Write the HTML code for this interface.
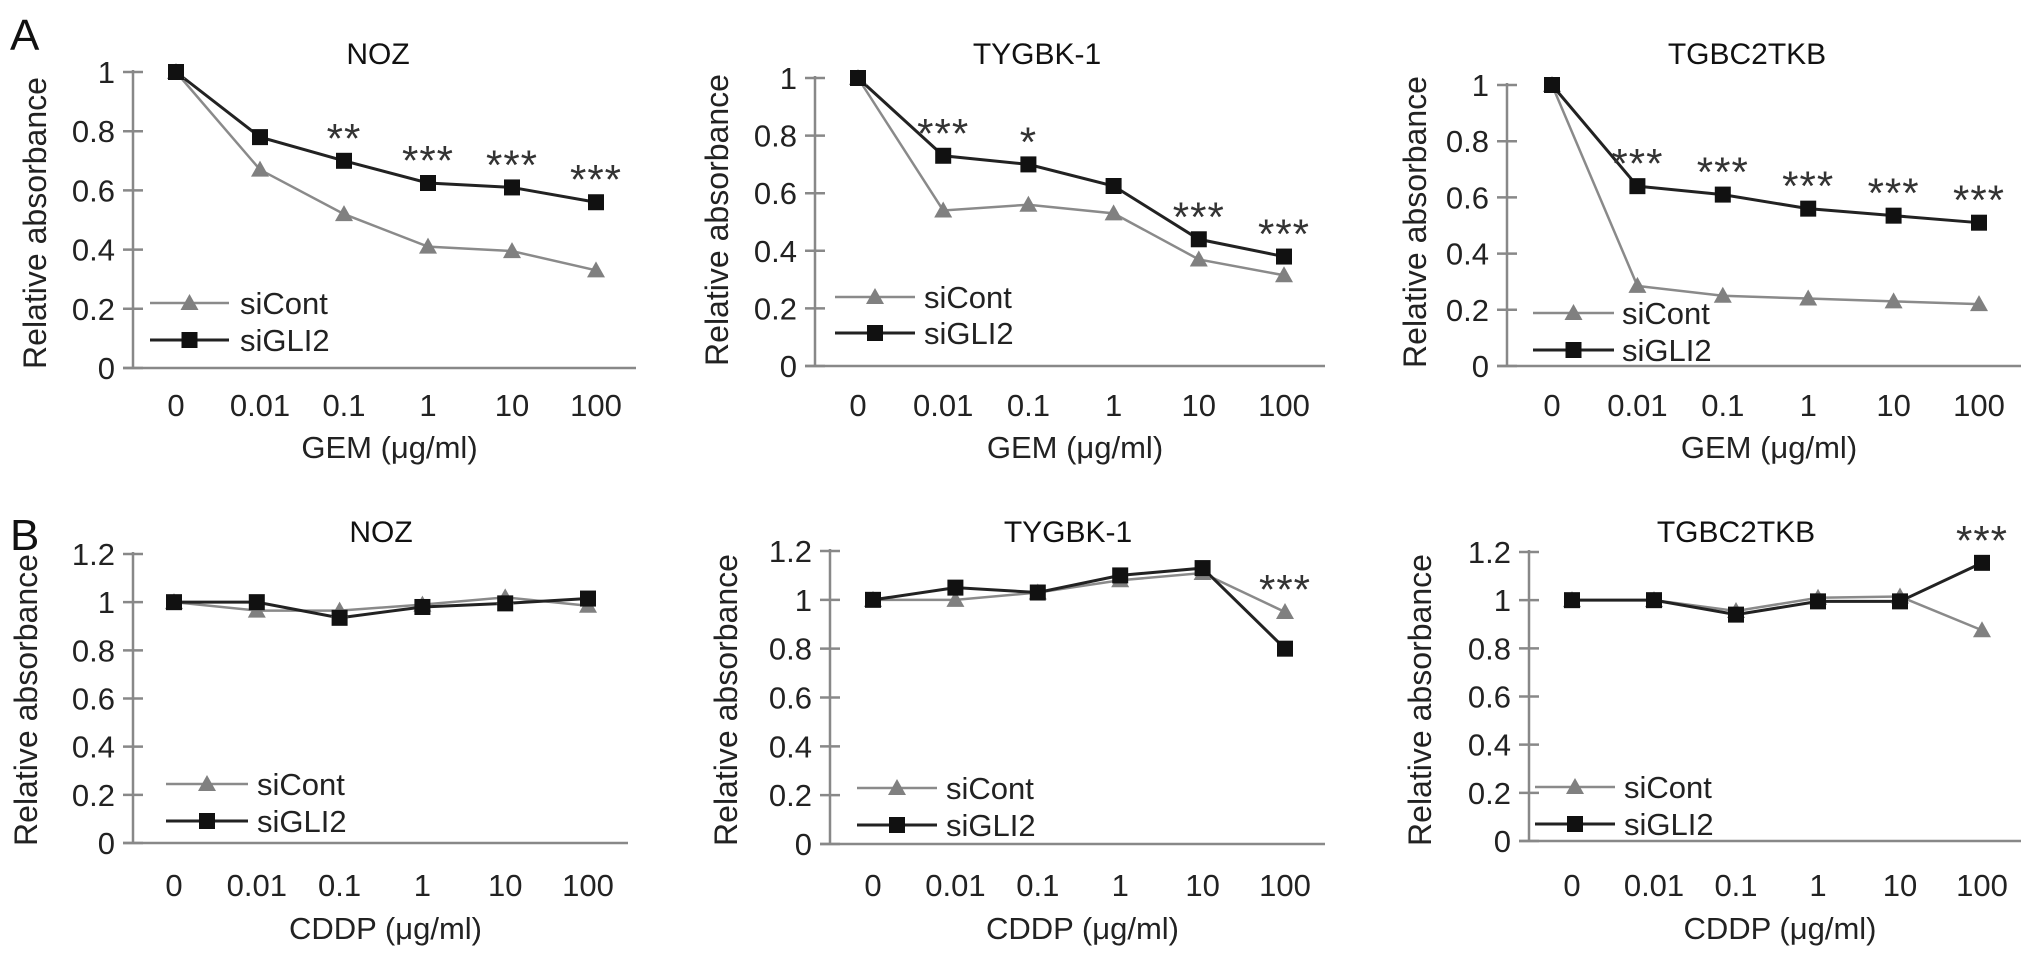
<!DOCTYPE html>
<html><head><meta charset="utf-8">
<style>
html,body{margin:0;padding:0;background:#fff;}
svg{display:block;font-family:"Liberation Sans",Arial,sans-serif;}
</style></head>
<body>
<svg id="fig" width="2032" height="960" viewBox="0 0 2032 960" xmlns="http://www.w3.org/2000/svg">
<text x="10" y="50" font-size="44" fill="#111">A</text>
<text x="10" y="550" font-size="44" fill="#111">B</text>
</svg>
<script>
const categories = ["0","0.01","0.1","1","10","100"];
const ticksA = [0,0.2,0.4,0.6,0.8,1];
const tickLabelsA = ["0","0.2","0.4","0.6","0.8","1"];
const ticksB = [0,0.2,0.4,0.6,0.8,1,1.2];
const tickLabelsB = ["0","0.2","0.4","0.6","0.8","1","1.2"];
const titles = ["NOZ","TYGBK-1","TGBC2TKB","NOZ","TYGBK-1","TGBC2TKB"];
const xTitles = ["GEM (\u03bcg/ml)","GEM (\u03bcg/ml)","GEM (\u03bcg/ml)","CDDP (\u03bcg/ml)","CDDP (\u03bcg/ml)","CDDP (\u03bcg/ml)"];
const siContA1 = [1,0.67,0.52,0.41,0.395,0.33];
const siGLI2A1 = [1,0.78,0.70,0.625,0.61,0.56];
const starsA1 = ["","","**","***","***","***"];
const siContA2 = [1,0.54,0.56,0.53,0.37,0.315];
const siGLI2A2 = [1,0.73,0.70,0.625,0.44,0.38];
const starsA2 = ["","***","*","","***","***"];
const siContA3 = [1,0.285,0.25,0.24,0.23,0.22];
const siGLI2A3 = [1,0.64,0.61,0.56,0.535,0.51];
const starsA3 = ["","***","***","***","***","***"];
const siContB1 = [1,0.965,0.965,0.99,1.02,0.985];
const siGLI2B1 = [1,1.0,0.935,0.98,0.995,1.015];
const starsB1 = ["","","","","",""];
const siContB2 = [1,1.0,1.03,1.08,1.11,0.95];
const siGLI2B2 = [1,1.05,1.03,1.10,1.13,0.80];
const starsB2 = ["","","","","","***"];
const siContB3 = [1,1.0,0.955,1.01,1.015,0.875];
const siGLI2B3 = [1,1.0,0.94,0.995,0.995,1.155];
const starsB3 = ["","","","","","***"];

const NS="http://www.w3.org/2000/svg";
const svg=document.getElementById('fig');
function mk(tag,attrs,parent){const e=document.createElementNS(NS,tag);for(const k in attrs)e.setAttribute(k,attrs[k]);(parent||svg).appendChild(e);return e;}

const layouts=[
 {ax:133,x0:176,step:84,xEnd:636,y0:368,yTop:72,vTop:1,tl:416,tt:458,title:[378,64],yt:[35,223],leg:[150,229,240,303,340]},
 {ax:815,x0:858,step:85.2,xEnd:1325,y0:366,yTop:78,vTop:1,tl:416,tt:458,title:[1037,64],yt:[717,220],leg:[835,915,924,297,333]},
 {ax:1507,x0:1552,step:85.4,xEnd:2021,y0:366,yTop:85,vTop:1,tl:416,tt:458,title:[1747,64],yt:[1415,222],leg:[1533,1614,1622,313,350]},
 {ax:133,x0:174,step:82.8,xEnd:628,y0:843,yTop:554,vTop:1.2,tl:896,tt:939,title:[381,542],yt:[26,700],leg:[166,248,257,784,821]},
 {ax:830,x0:873,step:82.4,xEnd:1325,y0:844,yTop:551,vTop:1.2,tl:896,tt:939,title:[1068,542],yt:[726,700],leg:[857,937,946,788,825]},
 {ax:1529,x0:1572,step:82,xEnd:2021,y0:841,yTop:552,vTop:1.2,tl:896,tt:939,title:[1736,542],yt:[1420,700],leg:[1535,1615,1624,787,824]}
];
const conts=[siContA1,siContA2,siContA3,siContB1,siContB2,siContB3];
const glis=[siGLI2A1,siGLI2A2,siGLI2A3,siGLI2B1,siGLI2B2,siGLI2B3];
const stars=[starsA1,starsA2,starsA3,starsB1,starsB2,starsB3];

function tri(g,x,y,name){
 const p=mk('polygon',{points:`${x},${y-9} ${x-9},${y+7} ${x+9},${y+7}`,fill:'#808080'},g);
 
 
}
function sq(g,x,y,name){
 const r=mk('rect',{x:x-8,y:y-8,width:16,height:16,fill:'#111'},g);
 
 
}

layouts.forEach((L,ci)=>{
 const isB=ci>=3;
 const ticks=isB?ticksB:ticksA, tlabels=isB?tickLabelsB:tickLabelsA;
 const g=mk('g',{});
 
 
 const yS=v=>L.y0-(v/L.vTop)*(L.y0-L.yTop);
 const xS=i=>L.x0+i*L.step;
 const ya=mk('line',{x1:L.ax,y1:L.yTop-2,x2:L.ax,y2:L.y0,stroke:'#888','stroke-width':2.5},g);
 
 
 const xa=mk('line',{x1:L.ax-10,y1:L.y0,x2:L.xEnd,y2:L.y0,stroke:'#888','stroke-width':2.5},g);
 
 
 ticks.forEach((v,i)=>{
  const y=yS(v);
  const t=mk('line',{x1:L.ax-10,y1:y,x2:L.ax+10,y2:y,stroke:'#888','stroke-width':2.5},g);
  
  
  const tx=mk('text',{x:L.ax-18,y:y+11,'font-size':31,'text-anchor':'end',fill:'#222'},g);
  tx.textContent=tlabels[i];
  
  
 });
 categories.forEach((c,i)=>{
  const tx=mk('text',{x:xS(i),y:L.tl,'font-size':31,'text-anchor':'middle',fill:'#222'},g);
  tx.textContent=c;
  
  
 });
 const xt=mk('text',{x:(L.ax+L.xEnd)/2+5,y:L.tt,'font-size':31,'text-anchor':'middle',fill:'#222'},g);
 xt.textContent=xTitles[ci];
 
 
 const yt=mk('text',{x:0,y:0,'font-size':32,'text-anchor':'middle',fill:'#222',transform:`translate(${L.yt[0]+11},${L.yt[1]}) rotate(-90)`,textLength:292,lengthAdjust:'spacingAndGlyphs'},g);
 yt.textContent='Relative absorbance';
 
 
 const tt=mk('text',{x:L.title[0],y:L.title[1],'font-size':30,'text-anchor':'middle',fill:'#111'},g);
 tt.textContent=titles[ci];
 
 
 const cont=conts[ci], gli=glis[ci];
 const pc=mk('polyline',{points:cont.map((v,i)=>xS(i)+','+yS(v)).join(' '),fill:'none',stroke:'#8a8a8a','stroke-width':2.5},g);
 
 
 const pg=mk('polyline',{points:gli.map((v,i)=>xS(i)+','+yS(v)).join(' '),fill:'none',stroke:'#222','stroke-width':3},g);
 
 
 cont.forEach((v,i)=>tri(g,xS(i),yS(v),'sicont-point'));
 gli.forEach((v,i)=>sq(g,xS(i),yS(v),'sigli2-point'));
 stars[ci].forEach((s,i)=>{
  if(!s)return;
  const top=Math.max(gli[i],cont[i]);
  const st=mk('text',{x:xS(i),y:yS(top)-8,'font-size':42,'text-anchor':'middle',fill:'#333','letter-spacing':1},g);
  st.textContent=s;
  
  
 });
 const [lx1,lx2,tx0,ly1,ly2]=L.leg;
 const l1=mk('line',{x1:lx1,y1:ly1,x2:lx2,y2:ly1,stroke:'#8a8a8a','stroke-width':2.5},g);
 
 
 tri(g,(lx1+lx2)/2,ly1,'legend-sicont-marker');
 const t1=mk('text',{x:tx0,y:ly1+11,'font-size':31,fill:'#222'},g);
 t1.textContent='siCont';
 
 
 const l2=mk('line',{x1:lx1,y1:ly2,x2:lx2,y2:ly2,stroke:'#222','stroke-width':3},g);
 
 
 sq(g,(lx1+lx2)/2,ly2,'legend-sigli2-marker');
 const t2=mk('text',{x:tx0,y:ly2+11,'font-size':31,fill:'#222'},g);
 t2.textContent='siGLI2';
 
 
});
</script>
</body></html>
